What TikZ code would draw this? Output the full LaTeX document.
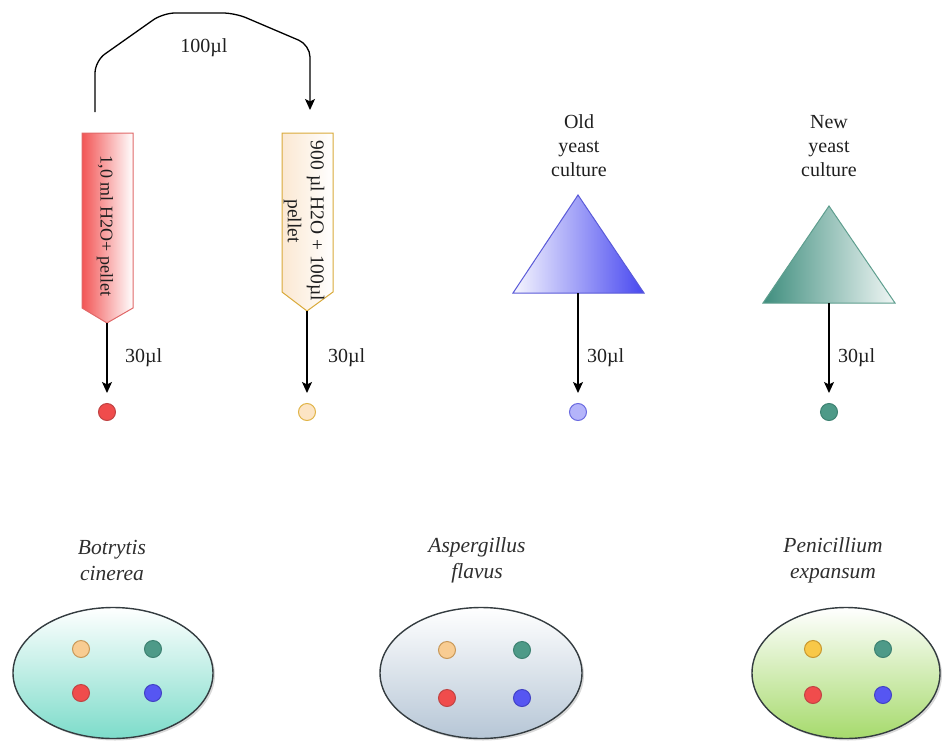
\documentclass[tikz,border=0pt]{standalone}
\usepackage{fontspec}
\setmainfont{Liberation Serif}
\usetikzlibrary{arrows.meta,shapes.geometric,shadows}

\definecolor{tubered}{HTML}{F25555}
\definecolor{tubeline}{HTML}{E06868}
\definecolor{creamline}{HTML}{D9AA3A}
\definecolor{cream}{HTML}{FBE8D2}
\definecolor{violet}{HTML}{4848F0}
\definecolor{violetline}{HTML}{5A5AD8}
\definecolor{teal}{HTML}{3F8E7E}
\definecolor{tealline}{HTML}{5E9E8E}
\definecolor{dotred}{HTML}{F04C4C}
\definecolor{dotredline}{HTML}{C04444}
\definecolor{dotorange}{HTML}{F8CC92}
\definecolor{dotorangeline}{HTML}{C89858}
\definecolor{dotcream}{HTML}{FCE4C4}
\definecolor{dotcreamline}{HTML}{E0B448}
\definecolor{dotblue}{HTML}{5656F2}
\definecolor{dotblueline}{HTML}{4242C4}
\definecolor{dotlav}{HTML}{B4B4FA}
\definecolor{dotlavline}{HTML}{6A6AE0}
\definecolor{dotteal}{HTML}{4E9A88}
\definecolor{dottealline}{HTML}{3E8272}
\definecolor{dotyellow}{HTML}{F8C848}
\definecolor{dotyellowline}{HTML}{C89830}
\definecolor{plateA}{HTML}{7CDCCA}
\definecolor{plateB}{HTML}{B6C6D6}
\definecolor{plateC}{HTML}{A6DA6C}
\definecolor{plateline}{HTML}{343C40}

\begin{document}
\begin{tikzpicture}[x=1pt,y=-1pt,
  lbl/.style={font=\fontsize{20}{24}\selectfont, text=black!88, inner sep=0pt, align=center},
  tubetext/.style={font=\fontsize{#1}{23}\selectfont, text=black!88, inner sep=0pt, align=center, rotate=-90},
  species/.style={font=\itshape\fontsize{21.5}{26}\selectfont, text=black!82, inner sep=0pt, align=center},
  conn/.style={line width=1.3pt, -{Stealth[length=11pt,width=10pt,inset=2.5pt]}},
  feed/.style={conn, shorten >=10pt},
  dot/.style={circle, minimum size=17pt, inner sep=0pt, line width=1pt},
  reddot/.style={dot, fill=dotred, draw=dotredline},
  orangedot/.style={dot, fill=dotorange, draw=dotorangeline},
  creamdot/.style={dot, fill=dotcream, draw=dotcreamline},
  bluedot/.style={dot, fill=dotblue, draw=dotblueline},
  lavdot/.style={dot, fill=dotlav, draw=dotlavline},
  tealdot/.style={dot, fill=dotteal, draw=dottealline},
  yellowdot/.style={dot, fill=dotyellow, draw=dotyellowline},
  plate/.style={ellipse, minimum width=200pt, minimum height=131pt, inner sep=0pt,
    draw=plateline, line width=1.4pt, top color=white,
    drop shadow={shadow xshift=2pt, shadow yshift=-2pt, opacity=0.3}},
  tube/.style={line width=1pt}]

\useasboundingbox (0,0) rectangle (943,742);

% ---- tubes ----
\path[tube, draw=tubeline, left color=tubered, right color=white]
  (82,133) -- (133,133) -- (133,308) -- (107,323) -- (82,308) -- cycle;
\coordinate (tip1) at (107,323);
\node[tubetext=18] (t1) at (105,226) {1,0 ml H2O+ pellet};

\path[tube, draw=creamline, left color=cream, right color=white]
  (282,133) -- (333,133) -- (333,292) -- (307,311) -- (282,292) -- cycle;
\coordinate (tip2) at (307,311);
\node[tubetext=19.5] (t2) at (304,221) {900 µl H2O + 100µl\\pellet};

% ---- transfer from first to second tube ----
\coordinate (src) at (95,112);
\coordinate (dst) at (310,110);
\draw[conn, rounded corners=12pt]
  (src) -- (95,61) -- (163,13) -- (235,13) -- (310,45) -- (dst);
\node[lbl] (transfer) at (204,48) {100µl};

% ---- yeast cultures ----
\path[draw=violetline, line width=1pt, left color=white!95!violet, right color=violet]
  (578,195) -- (644,293) -- (513,293) -- cycle;
\coordinate (base3) at (578,293);
\node[lbl] (old) at (579,146) {Old\\yeast\\culture};

\path[draw=tealline, line width=1pt, left color=teal, right color=white!92!teal]
  (829,206) -- (895,303) -- (763,303) -- cycle;
\coordinate (base4) at (829,303);
\node[lbl] (new) at (829,146) {New\\yeast\\culture};

% ---- drops ----
\node[reddot] (d1) at (107,412) {};
\node[creamdot] (d2) at (307,412) {};
\node[lavdot] (d3) at (578,412) {};
\node[tealdot] (d4) at (829,412) {};

\draw[feed] (tip1) -- (d1);
\draw[feed] (tip2) -- (d2);
\draw[feed] (base3) -- (d3);
\draw[feed] (base4) -- (d4);

\node[lbl, anchor=west] (v1) at (125,358) {30µl};
\node[lbl, anchor=west] (v2) at (328,358) {30µl};
\node[lbl, anchor=west] (v3) at (587,358) {30µl};
\node[lbl, anchor=west] (v4) at (838,358) {30µl};

% ---- plates ----
\node[species] (s1) at (112,560) {Botrytis\\cinerea};
\node[species] (s2) at (477,560) {Aspergillus\\flavus};
\node[species] (s3) at (833,560) {Penicillium\\expansum};

\node[plate, bottom color=plateA] (p1) at (113,673) {};
\node[plate, bottom color=plateB, minimum width=202pt] (p2) at (481,673) {};
\node[plate, bottom color=plateC, minimum width=188pt] (p3) at (846,673) {};

\node[orangedot] (p1a) at (81,649) {};
\node[tealdot]   (p1b) at (153,649) {};
\node[reddot]    (p1c) at (81,693) {};
\node[bluedot]   (p1d) at (153,693) {};

\node[orangedot] (p2a) at (447,650) {};
\node[tealdot]   (p2b) at (522,650) {};
\node[reddot]    (p2c) at (447,698) {};
\node[bluedot]   (p2d) at (522,698) {};

\node[yellowdot] (p3a) at (813,649) {};
\node[tealdot]   (p3b) at (883,649) {};
\node[reddot]    (p3c) at (813,695) {};
\node[bluedot]   (p3d) at (883,695) {};
\end{tikzpicture}
\end{document}
